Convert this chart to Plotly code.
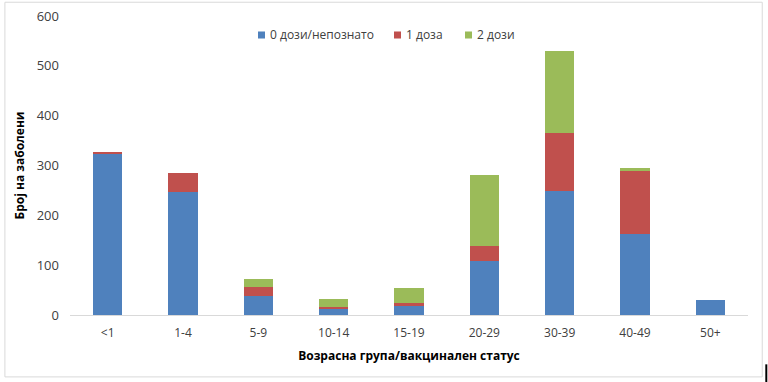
import plotly.graph_objects as go

categories = ["<1", "1-4", "5-9", "10-14", "15-19", "20-29", "30-39", "40-49", "50+"]
dose0 = [325, 247, 38, 13, 20, 108, 249, 163, 30]
dose1 = [2, 38, 18, 4, 4, 31, 117, 126, 0]
dose2 = [0, 0, 16, 15, 30, 141, 163, 5, 0]
series_names = ["0 дози/непознато", "1 доза", "2 дози"]
y_ticks = [0, 100, 200, 300, 400, 500, 600]

colors = ["#4F81BD", "#C0504D", "#9BBB59"]
font = "Open Sans, Liberation Sans, sans-serif"

fig = go.Figure()
for name, vals, c in zip(series_names, [dose0, dose1, dose2], colors):
    fig.add_trace(go.Bar(x=categories, y=vals, name=name, showlegend=False,
                         marker=dict(color=c, line=dict(width=0))))

# custom legend (compact, like the original)
legend_marker_x = [0.2773, 0.4779, 0.5826]
shapes = [
    dict(type="rect", xref="paper", yref="paper", x0=-0.096, x1=1.021, y0=-0.207, y1=1.046,
         line=dict(color="#D9D9D9", width=1)),
    dict(type="line", xref="paper", yref="paper", x0=1.027, x1=1.027, y0=-0.224, y1=-0.165,
         line=dict(color="black", width=2)),
]
annotations = []
for name, c, mx in zip(series_names, colors, legend_marker_x):
    shapes.append(dict(type="rect", xref="paper", yref="paper", x0=mx, x1=mx + 0.0103,
                       y0=0.9247, y1=0.9482, fillcolor=c, line=dict(width=0)))
    annotations.append(dict(text=name, xref="paper", yref="paper", x=mx + 0.0147, y=0.9365,
                            xanchor="left", yanchor="middle", showarrow=False,
                            font=dict(size=12, color="#404040", family=font)))

fig.update_layout(
    barmode="stack",
    bargap=0.61,
    width=768, height=382,
    margin=dict(l=70, r=20, t=16, b=67, autoexpand=False),
    paper_bgcolor="white", plot_bgcolor="white",
    font=dict(family=font, size=12, color="#404040"),
    showlegend=False,
    xaxis=dict(showgrid=False, showline=True, linecolor="#D9D9D9", linewidth=1,
               ticks="", tickfont=dict(size=12, color="#404040"), automargin=False,
               ticklabelstandoff=7,
               title=dict(text="<b>Возрасна група/вакцинален статус</b>",
                          font=dict(size=12, color="#000000"), standoff=11)),
    yaxis=dict(range=[0, 600], tickvals=y_ticks, showgrid=False, showline=False,
               zeroline=False, ticks="", tickfont=dict(size=13, color="#404040"),
               ticklabelstandoff=10, automargin=False,
               title=dict(text="<b>Број на заболени</b>",
                          font=dict(size=12, color="#000000"), standoff=9)),
    shapes=shapes,
    annotations=annotations,
)

fig.write_html("out.html", config={"displayModeBar": False},
               post_script="document.body.style.margin='0';")
